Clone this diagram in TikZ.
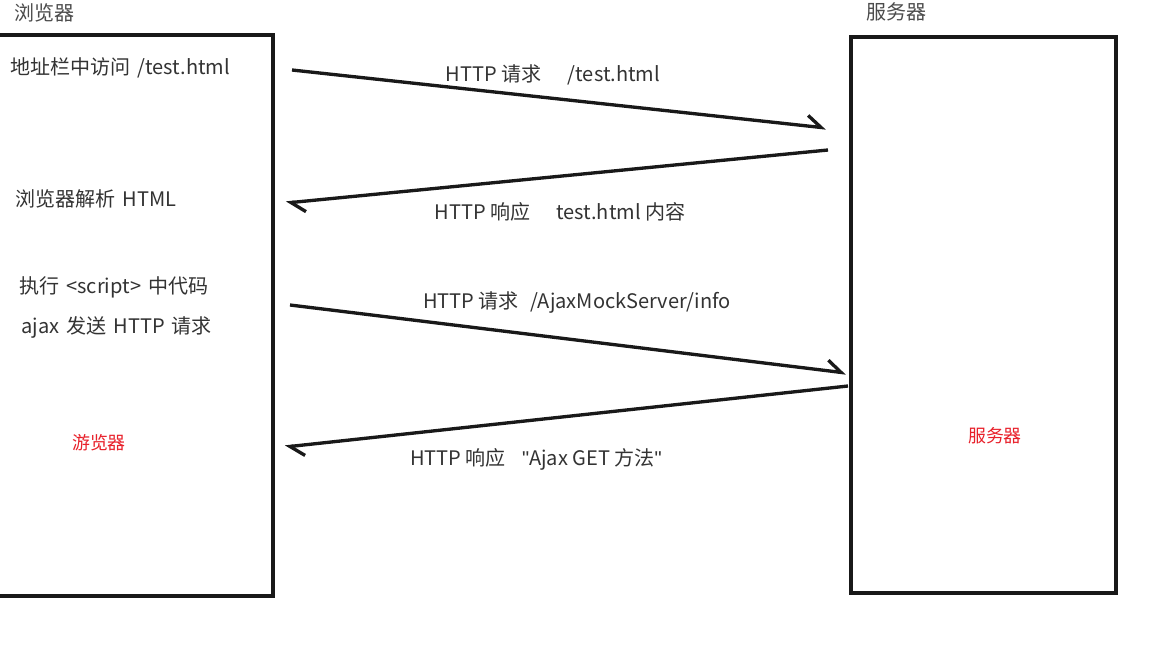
\documentclass[tikz,border=0pt]{standalone}
\usepackage{fontspec}
\setmainfont{Noto Sans CJK SC}
\newfontfamily\quotefont[Ligatures=ResetAll]{Liberation Sans}
\usetikzlibrary{arrows.meta}

\definecolor{noteRed}{RGB}{232,32,42}

\begin{document}
\begin{tikzpicture}[
    x=0.02cm, y=-0.02cm,
    txt/.style={text=black!80, font=\fontsize{11.4}{13}\selectfont, inner sep=0pt},
    note/.style={text=noteRed, font=\fontsize{10.2}{12}\selectfont, inner sep=0pt},
    frame/.style={draw=black!90, line width=2.1pt},
    msg/.style={line width=1.9pt, draw=black!90,
        -{Straight Barb[harpoon, length=8pt, width=12pt, line width=1.9pt]}}
]

% Canvas
\useasboundingbox[fill=white] (0,0) rectangle (1160,670);

% Geometry
\def\hGap{\hspace{1.3em}}
\def\qt{{\quotefont\symbol{34}}}

% Boxes
\draw[frame] (-3,35) rectangle (273,596);
\draw[frame] (851,37) rectangle (1116,593);

% Titles
\node[txt, text=black!70, anchor=west] (browserTitle) at (14,13) {浏览器};
\node[txt, text=black!70, anchor=west] (serverTitle) at (866,12) {服务器};

% Browser steps
\node[txt, anchor=west] (visit) at (10,68) {地址栏中访问\hspace{0.35em}/test.html};
\node[txt, anchor=west] (parse) at (15,199) {浏览器解析\hspace{0.35em}HTML};
\node[txt, anchor=west] (exec) at (19,287) {执行\hspace{0.35em}<script>\hspace{0.35em}中代码};
\node[txt, anchor=west] (send) at (21,327) {ajax\hspace{0.35em}发送\hspace{0.35em}HTTP\hspace{0.35em}请求};

% Red labels
\node[note] (browserNote) at (99,443) {游览器};
\node[note] (serverNote) at (995,436) {服务器};

% Message end points
\coordinate (reqOneA) at (292,70);
\coordinate (reqOneB) at (826,128);
\coordinate (resOneA) at (828,150);
\coordinate (resOneB) at (286,203);
\coordinate (reqTwoA) at (290,305);
\coordinate (reqTwoB) at (846,373);
\coordinate (resTwoA) at (848,386);
\coordinate (resTwoB) at (285,447);

% Messages
\draw[msg] (reqOneA) -- (reqOneB);
\draw[msg] (resOneA) -- (resOneB);
\draw[msg] (reqTwoA) -- (reqTwoB);
\draw[msg] (resTwoA) -- (resTwoB);

% Message labels
\node[txt] (reqOneLbl) at (553,75) {HTTP 请求\hGap/test.html};
\node[txt] (resOneLbl) at (560,212) {HTTP 响应\hGap test.html 内容};
\node[txt] (reqTwoLbl) at (577,303) {HTTP 请求\hspace{0.6em}/AjaxMockServer/info};
\node[txt] (resTwoLbl) at (536,459) {HTTP 响应\hspace{0.8em}\qt Ajax GET 方法\qt};

\end{tikzpicture}
\end{document}
